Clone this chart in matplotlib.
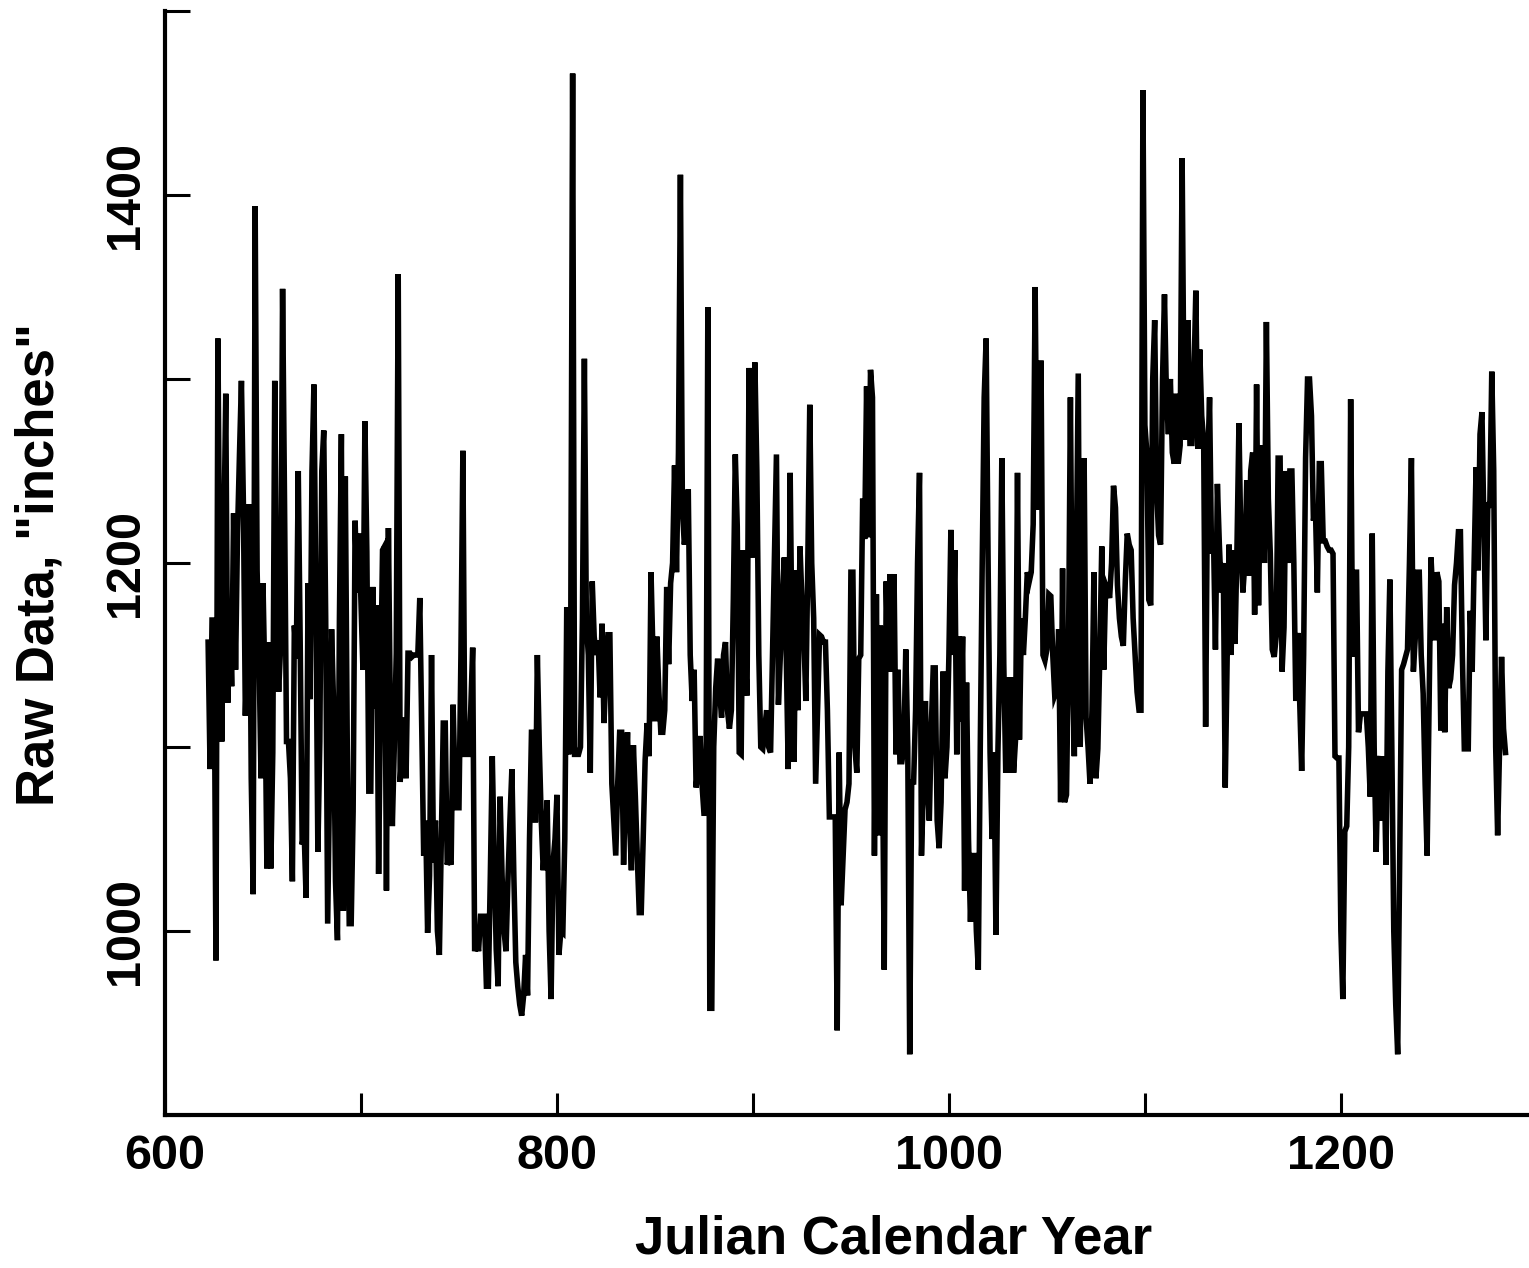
import numpy as np
import matplotlib
matplotlib.use("Agg")
import matplotlib.pyplot as plt
from matplotlib.ticker import MultipleLocator, FixedLocator

start_year = 622
# annual minimum level, one row per decade starting at start_year
levels = [
    1157, 1088, 1169, 1169, 984, 1322, 1178, 1103, 1211, 1292,
    1124, 1171, 1133, 1227, 1142, 1216, 1259, 1299, 1232, 1117,
    1155, 1232, 1083, 1020, 1394, 1196, 1148, 1083, 1189, 1133,
    1034, 1157, 1034, 1097, 1299, 1157, 1130, 1155, 1349, 1232,
    1103, 1103, 1083, 1027, 1166, 1148, 1250, 1155, 1047, 1054,
    1018, 1189, 1126, 1250, 1297, 1178, 1043, 1103, 1250, 1272,
    1169, 1004, 1083, 1164, 1124, 1027, 995, 1169, 1270, 1011,
    1247, 1101, 1004, 1004, 1065, 1223, 1184, 1216, 1180, 1142,
    1277, 1206, 1076, 1076, 1187, 1121, 1177, 1031, 1130, 1207,
    1209, 1022, 1219, 1117, 1057, 1100, 1151, 1357, 1081, 1100,
    1116, 1083, 1151, 1151, 1149, 1150, 1150, 1150, 1181, 1110,
    1041, 1060, 999, 1030, 1150, 1037, 1060, 1000, 987, 1050,
    1113, 1113, 1036, 1040, 1036, 1123, 1080, 1067, 1067, 1150,
    1261, 1096, 1096, 1096, 1120, 1154, 989, 995, 989, 1008,
    1008, 1008, 970, 970, 1030, 1095, 1040, 990, 970, 1073,
    1030, 1000, 989, 1028, 1060, 1088, 1030, 983, 970, 960,
    954, 965, 987, 965, 1050, 1108, 1108, 1059, 1150, 1100,
    1060, 1033, 1050, 1071, 1000, 963, 1037, 1050, 1074, 987,
    1000, 999, 1050, 1176, 1096, 1150, 1466, 1096, 1096, 1096,
    1100, 1170, 1311, 1168, 1150, 1086, 1190, 1160, 1150, 1158,
    1127, 1167, 1113, 1140, 1161, 1161, 1080, 1060, 1041, 1080,
    1108, 1108, 1036, 1080, 1108, 1060, 1033, 1101, 1073, 1040,
    1010, 1010, 1050, 1093, 1113, 1095, 1195, 1150, 1114, 1160,
    1130, 1108, 1108, 1120, 1187, 1145, 1189, 1200, 1253, 1195,
    1260, 1411, 1230, 1210, 1220, 1240, 1150, 1125, 1142, 1078,
    1090, 1106, 1080, 1064, 1064, 1339, 958, 958, 1100, 1132,
    1148, 1130, 1116, 1150, 1157, 1120, 1110, 1120, 1180, 1259,
    1220, 1097, 1096, 1207, 1150, 1128, 1306, 1250, 1203, 1309,
    1250, 1150, 1100, 1099, 1110, 1120, 1100, 1097, 1150, 1200,
    1259, 1123, 1150, 1180, 1203, 1150, 1088, 1249, 1150, 1092,
    1196, 1120, 1209, 1180, 1160, 1125, 1200, 1286, 1200, 1170,
    1080, 1120, 1161, 1160, 1157, 1157, 1120, 1062, 1062, 1062,
    1062, 946, 1097, 1014, 1040, 1066, 1070, 1080, 1195, 1195,
    1100, 1086, 1148, 1150, 1235, 1213, 1296, 1214, 1305, 1290,
    1041, 1183, 1052, 1166, 1110, 979, 1190, 1141, 1194, 1141,
    1194, 1096, 1142, 1092, 1092, 1100, 1153, 1100, 933, 1081,
    1081, 1120, 1200, 1249, 1041, 1080, 1125, 1080, 1060, 1110,
    1143, 1143, 1060, 1045, 1070, 1141, 1083, 1100, 1150, 1218,
    1150, 1207, 1096, 1160, 1114, 1160, 1022, 1135, 1050, 1005,
    1041, 1041, 1000, 979, 1100, 1200, 1290, 1322, 1200, 1097,
    1050, 1097, 998, 1097, 1150, 1257, 1145, 1086, 1138, 1086,
    1138, 1086, 1104, 1249, 1104, 1170, 1150, 1170, 1195, 1190,
    1195, 1221, 1350, 1229, 1240, 1310, 1150, 1147, 1153, 1183,
    1182, 1150, 1128, 1131, 1164, 1070, 1197, 1070, 1074, 1150,
    1290, 1150, 1095, 1200, 1303, 1100, 1180, 1257, 1116, 1100,
    1080, 1120, 1195, 1083, 1099, 1150, 1209, 1142, 1188, 1185,
    1181, 1200, 1242, 1230, 1188, 1170, 1160, 1155, 1190, 1216,
    1210, 1207, 1170, 1150, 1130, 1120, 1120, 1457, 1275, 1260,
    1180, 1177, 1300, 1332, 1240, 1215, 1210, 1300, 1346, 1290,
    1270, 1300, 1260, 1254, 1292, 1254, 1264, 1420, 1280, 1267,
    1332, 1265, 1265, 1300, 1348, 1262, 1316, 1280, 1266, 1111,
    1250, 1290, 1205, 1215, 1153, 1243, 1210, 1184, 1200, 1078,
    1150, 1210, 1150, 1207, 1156, 1209, 1276, 1209, 1184, 1200,
    1245, 1193, 1250, 1260, 1172, 1297, 1177, 1250, 1264, 1200,
    1331, 1235, 1205, 1153, 1149, 1160, 1257, 1257, 1141, 1165,
    1250, 1200, 1250, 1250, 1200, 1125, 1162, 1125, 1087, 1150,
    1257, 1300, 1300, 1280, 1223, 1231, 1184, 1254, 1254, 1212,
    1212, 1209, 1207, 1207, 1205, 1095, 1094, 1094, 1000, 963,
    1054, 1057, 1100, 1289, 1149, 1195, 1195, 1108, 1118, 1118,
    1118, 1118, 1100, 1073, 1216, 1100, 1043, 1090, 1095, 1060,
    1095, 1036, 1141, 1191, 1100, 1000, 960, 933, 1040, 1142,
    1145, 1149, 1153, 1200, 1257, 1141, 1160, 1195, 1195, 1150,
    1129, 1080, 1041, 1120, 1203, 1180, 1158, 1195, 1190, 1109,
    1167, 1108, 1176, 1132, 1137, 1150, 1188, 1200, 1217, 1217,
    1150, 1099, 1099, 1099, 1174, 1141, 1200, 1252, 1196, 1270,
    1282, 1220, 1158, 1233, 1230, 1304, 1250, 1100, 1052, 1100,
    1149, 1110, 1097,
]
years = np.arange(start_year, start_year + len(levels))

x_ticks_labeled = [600, 800, 1000, 1200]
y_ticks_labeled = [1000, 1200, 1400]

plt.rcParams['font.family'] = ['Liberation Sans', 'DejaVu Sans']
plt.rcParams['font.weight'] = 'bold'

fig = plt.figure(figsize=(15.29, 12.68), dpi=100)
ax = fig.add_axes([165/1529, (1268-1115)/1268, 1 - 165/1529, 1104/1268])

ax.plot(years, levels, color='black', lw=4.0, solid_joinstyle='miter')

ax.set_xlim(600, 1296)
ax.set_ylim(900, 1500)

ax.spines['top'].set_visible(False)
ax.spines['right'].set_visible(False)
for s in ('left', 'bottom'):
    ax.spines[s].set_linewidth(3.0)

ax.xaxis.set_major_locator(FixedLocator(x_ticks_labeled))
ax.xaxis.set_minor_locator(MultipleLocator(100))
ax.yaxis.set_major_locator(FixedLocator(y_ticks_labeled))
ax.yaxis.set_minor_locator(MultipleLocator(100))

ax.tick_params(axis='both', which='both', direction='in', width=2.2, color='black')
ax.tick_params(axis='x', which='both', length=16, pad=14, labelsize=35)
ax.tick_params(axis='y', which='both', length=18, pad=12, labelsize=35)
ax.tick_params(axis='y', which='major', labelrotation=90)
for lab in ax.get_yticklabels():
    lab.set_verticalalignment('center')
    lab.set_fontweight('bold')
for lab in ax.get_xticklabels():
    lab.set_fontweight('bold')

ax.set_xlabel('Julian Calendar Year', fontsize=38, fontweight='bold')
ax.set_ylabel('Raw Data, "inches"', fontsize=38, fontweight='bold')
ax.xaxis.label.set_verticalalignment('center')
ax.yaxis.label.set_verticalalignment('center')
ax.xaxis.set_label_coords((894 - 165) / 1364, (1115 - 1240) / 1104)
ax.yaxis.set_label_coords((40 - 165) / 1364, (1115 - 565) / 1104)

fig.savefig('out.png', dpi=100)
